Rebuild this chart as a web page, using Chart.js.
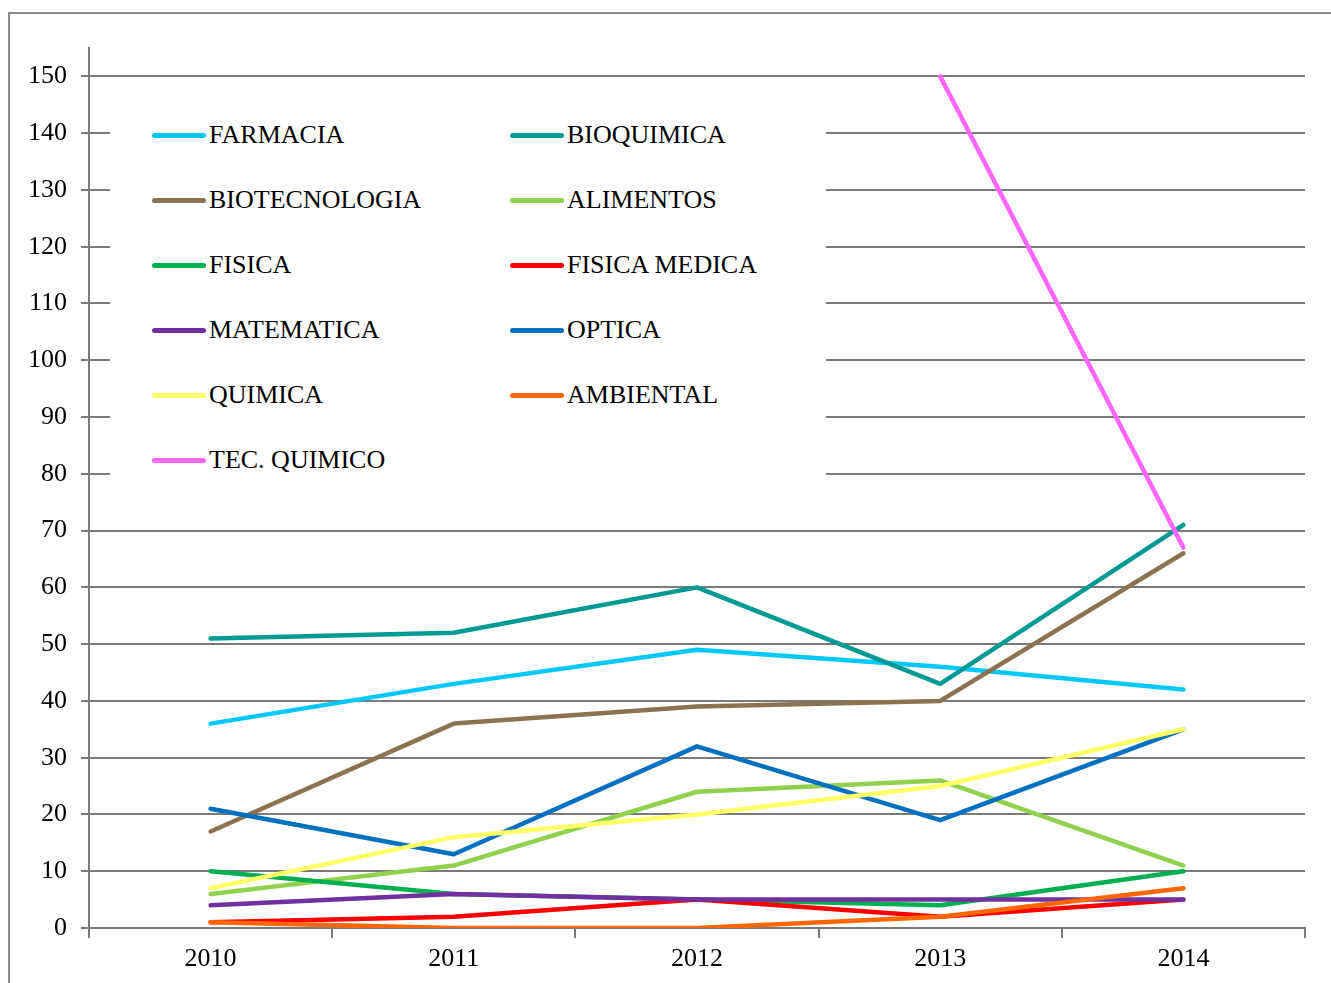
<!DOCTYPE html>
<html>
<head>
<meta charset="utf-8">
<script src="https://cdn.jsdelivr.net/npm/chart.js@4.4.0/dist/chart.umd.min.js"></script>
<style>
  html, body { margin: 0; padding: 0; background: #fff; overflow: hidden; }
  #marco { position: absolute; left: 8px; top: 12px; width: 1400px; height: 1100px;
           border-left: 2px solid #8c8c8c; border-top: 2px solid #8c8c8c; }
  #contenedor { position: absolute; left: 0; top: 0; width: 1331px; height: 983px; }
  #leyenda { position: absolute; left: 110px; top: 92px; width: 716px; height: 405px; background: #fff;
             font-family: "Liberation Serif", "Times New Roman", serif; font-size: 26px; color: #000; }
  .item { position: absolute; height: 30px; line-height: 30px; white-space: nowrap; }
  .muestra { position: absolute; left: 0; top: 13px; width: 54px; height: 5px; border-radius: 2.5px; }
  .texto { position: absolute; left: 57px; top: 0; }
</style>
</head>
<body>
<div id="marco"></div>
<div id="contenedor"><canvas id="grafico" width="1331" height="983"></canvas></div>
<div id="leyenda"></div>
<script>
// Datos
const anios = ['2010', '2011', '2012', '2013', '2014'];
const marcasY = [0, 10, 20, 30, 40, 50, 60, 70, 80, 90, 100, 110, 120, 130, 140, 150];

const farmacia      = [36, 43, 49, 46, 42];
const bioquimica    = [51, 52, 60, 43, 71];
const biotecnologia = [17, 36, 39, 40, 66];
const alimentos     = [6, 11, 24, 26, 11];
const fisica        = [10, 6, 5, 4, 10];
const fisicaMedica  = [1, 2, 5, 2, 5];
const matematica    = [4, 6, 5, 5, 5];
const optica        = [21, 13, 32, 19, 35];
const quimica       = [7, 16, 20, 25, 35];
const ambiental     = [1, 0, 0, 2, 7];
const tecQuimico    = [null, null, null, 150, 67];

const nombres = ['FARMACIA', 'BIOQUIMICA', 'BIOTECNOLOGIA', 'ALIMENTOS', 'FISICA',
                 'FISICA MEDICA', 'MATEMATICA', 'OPTICA', 'QUIMICA', 'AMBIENTAL', 'TEC. QUIMICO'];
const series = [farmacia, bioquimica, biotecnologia, alimentos, fisica,
                fisicaMedica, matematica, optica, quimica, ambiental, tecQuimico];
const colores = ['#00C8FA', '#009A94', '#8B7352', '#92D050', '#00B050',
                 '#FF0000', '#7030A0', '#0070C0', '#FFFF66', '#FF6600', '#FF66FF'];

const fuente = { family: '"Liberation Serif", "Times New Roman", serif', size: 26 };

// Construir datasets (el último se dibuja encima, como en Excel)
const datasets = series.map((valores, i) => ({
    label: nombres[i],
    data: valores,
    borderColor: colores[i],
    backgroundColor: colores[i],
    borderWidth: 4.5,
    pointRadius: 0,
    pointHoverRadius: 0,
    tension: 0,
    fill: false,
    spanGaps: false,
    borderCapStyle: 'round',
    borderJoinStyle: 'round',
    order: -i
}));

const ctx = document.getElementById('grafico').getContext('2d');
new Chart(ctx, {
    type: 'line',
    data: { labels: anios, datasets: datasets },
    options: {
        responsive: false,
        animation: false,
        layout: { padding: { left: 0, right: 26, top: 48, bottom: 0 } },
        plugins: {
            legend: { display: false },
            tooltip: { enabled: false }
        },
        scales: {
            x: {
                offset: true,
                grid: {
                    offset: true,
                    drawOnChartArea: false,
                    drawTicks: true,
                    tickLength: 10,
                    color: '#7a7a7a',
                    lineWidth: 2
                },
                border: { color: '#7a7a7a', width: 2 },
                ticks: { color: '#000', font: fuente, padding: 6 },
                afterFit: s => { s.height = 55; }
            },
            y: {
                min: 0,
                max: 155,
                afterBuildTicks: eje => { eje.ticks = marcasY.map(v => ({ value: v })); },
                ticks: { color: '#000', font: fuente, padding: 14 },
                grid: { color: '#7a7a7a', lineWidth: 2, tickLength: 8 },
                border: { color: '#7a7a7a', width: 2 },
                afterFit: s => { s.width = 89; }
            }
        }
    }
});

// Leyenda en dos columnas, en la esquina superior izquierda del área del gráfico
const leyenda = document.getElementById('leyenda');
nombres.forEach((nombre, i) => {
    const col = i % 2;
    const fila = Math.floor(i / 2);
    const item = document.createElement('div');
    item.className = 'item';
    item.style.left = (42 + col * 358) + 'px';
    item.style.top = (28 + fila * 65) + 'px';
    item.innerHTML = '<div class="muestra" style="background:' + colores[i] + '"></div>' +
                     '<div class="texto">' + nombre + '</div>';
    leyenda.appendChild(item);
});
</script>
</body>
</html>
